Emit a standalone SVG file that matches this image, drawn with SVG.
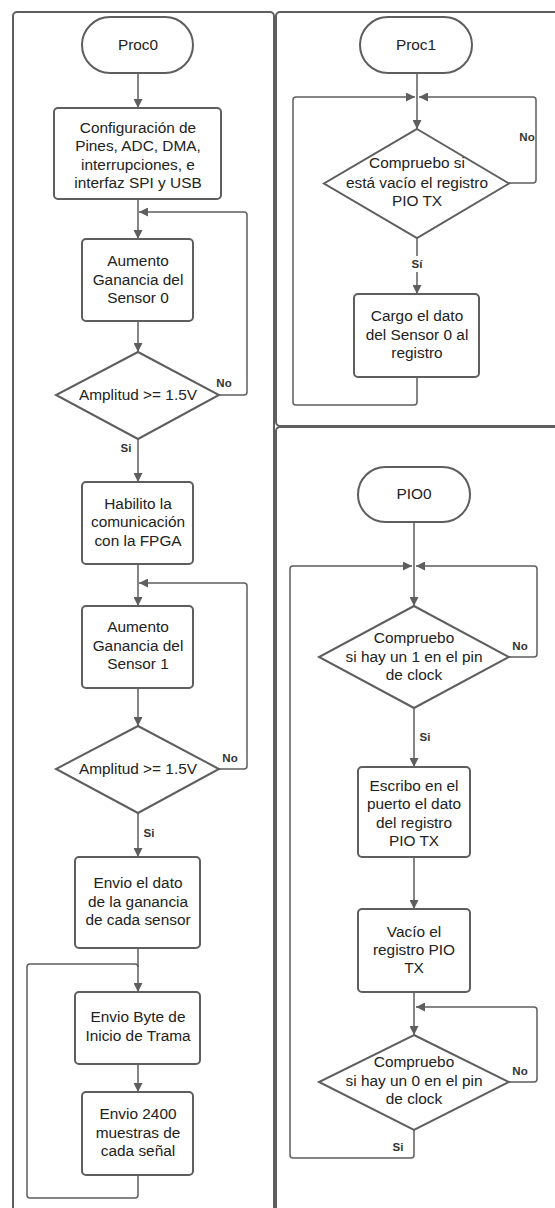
<svg xmlns="http://www.w3.org/2000/svg" width="555" height="1208" viewBox="0 0 555 1208">
<style>
.panel{fill:#ffffff;stroke:#5e5e5e;stroke-width:2}
.shape{fill:#ffffff;stroke:#5e5e5e;stroke-width:2}
.conn{fill:none;stroke:#5e5e5e;stroke-width:1.5}
.t{font-family:"Liberation Sans",Arial,sans-serif;font-size:15.4px;fill:#222222;text-anchor:middle}
.lbl{font-family:"Liberation Sans",Arial,sans-serif;font-size:11.5px;font-weight:bold;fill:#333333;text-anchor:middle}
</style>
<defs>
<marker id="ah" viewBox="0 0 10 10" refX="10" refY="5" markerWidth="9" markerHeight="9" markerUnits="userSpaceOnUse" orient="auto">
<path d="M0,0 L10,5 L0,10 z" fill="#5e5e5e"/>
</marker>
</defs>
<rect width="555" height="1208" fill="#ffffff"/>
<g id="panels">
<rect class="panel" x="13" y="12" width="261" height="1220" rx="4"/>
<rect class="panel" x="276" y="12" width="300" height="414" rx="4"/>
<rect class="panel" x="276" y="427" width="300" height="800" rx="4"/>
</g>
<g id="connectors">
<path class="conn" d="M138,73 V108" marker-end="url(#ah)"/>
<path class="conn" d="M138,199 V239" marker-end="url(#ah)"/>
<path class="conn" d="M219,395 H244 Q247,395 247,392 V215 Q247,212 244,212 H139" marker-end="url(#ah)"/>
<path class="conn" d="M138,321 V352" marker-end="url(#ah)"/>
<path class="conn" d="M138,439 V482" marker-end="url(#ah)"/>
<path class="conn" d="M138,564 V606" marker-end="url(#ah)"/>
<path class="conn" d="M219,769 H244 Q247,769 247,766 V586 Q247,583 244,583 H139" marker-end="url(#ah)"/>
<path class="conn" d="M138,688 V726" marker-end="url(#ah)"/>
<path class="conn" d="M138,813 V857" marker-end="url(#ah)"/>
<path class="conn" d="M138,948 V992" marker-end="url(#ah)"/>
<path class="conn" d="M138,1064 V1092" marker-end="url(#ah)"/>
<path class="conn" d="M138,1175 V1195 Q138,1198 135,1198 H30 Q27,1198 27,1195 V967 Q27,964 30,964 H135 Q138,964 138,967"/>
<path class="conn" d="M417,73 V129" marker-end="url(#ah)"/>
<path class="conn" d="M509,183 H533 Q536,183 536,180 V100 Q536,97 533,97 H419" marker-end="url(#ah)"/>
<path class="conn" d="M417,238 V294" marker-end="url(#ah)"/>
<path class="conn" d="M417,377 V402 Q417,405 414,405 H296 Q293,405 293,402 V100 Q293,97 296,97 H415" marker-end="url(#ah)"/>
<path class="conn" d="M414,522 V606" marker-end="url(#ah)"/>
<path class="conn" d="M509,657 H534 Q537,657 537,654 V569 Q537,566 534,566 H416" marker-end="url(#ah)"/>
<path class="conn" d="M414,708 V767" marker-end="url(#ah)"/>
<path class="conn" d="M414,857 V909" marker-end="url(#ah)"/>
<path class="conn" d="M414,992 V1035" marker-end="url(#ah)"/>
<path class="conn" d="M509,1082 H534 Q537,1082 537,1079 V1010 Q537,1007 534,1007 H416" marker-end="url(#ah)"/>
<path class="conn" d="M414,1130 V1155 Q414,1158 411,1158 H293 Q290,1158 290,1155 V569 Q290,566 293,566 H412" marker-end="url(#ah)"/>
</g>
<g id="labels">
<text class="lbl" x="224" y="387">No</text>
<text class="lbl" x="126" y="452">Si</text>
<text class="lbl" x="230" y="762">No</text>
<text class="lbl" x="149" y="837">Si</text>
<text class="lbl" x="527" y="141">No</text>
<rect x="408" y="256" width="18" height="16" fill="#ffffff"/>
<text class="lbl" x="417" y="268">Sí</text>
<text class="lbl" x="520" y="650">No</text>
<text class="lbl" x="425" y="741">Si</text>
<text class="lbl" x="520" y="1075">No</text>
<text class="lbl" x="398" y="1151">Si</text>
</g>
<g id="proc0">
<rect class="shape" x="82" y="17" width="111" height="56" rx="28"/>
<text class="t" x="138" y="50">Proc0</text>
</g>
<g id="config">
<rect class="shape" x="54" y="108" width="167" height="91" rx="4"/>
<text class="t" x="138" y="133">Configuración de</text>
<text class="t" x="138" y="151">Pines, ADC, DMA,</text>
<text class="t" x="138" y="169.5">interrupciones, e</text>
<text class="t" x="138" y="188">interfaz SPI y USB</text>
</g>
<g id="gain0">
<rect class="shape" x="82" y="239" width="111" height="82" rx="4"/>
<text class="t" x="138" y="266">Aumento</text>
<text class="t" x="138" y="284.5">Ganancia del</text>
<text class="t" x="138" y="303">Sensor 0</text>
</g>
<g id="amp0">
<polygon class="shape" points="138,352 219,395 138,439 56,395"/>
<text class="t" x="138" y="400">Amplitud &gt;= 1.5V</text>
</g>
<g id="fpga">
<rect class="shape" x="82" y="482" width="111" height="82" rx="4"/>
<text class="t" x="138" y="508.5">Habilito la</text>
<text class="t" x="138" y="527">comunicación</text>
<text class="t" x="138" y="545.5">con la FPGA</text>
</g>
<g id="gain1">
<rect class="shape" x="82" y="606" width="111" height="82" rx="4"/>
<text class="t" x="138" y="632">Aumento</text>
<text class="t" x="138" y="650.5">Ganancia del</text>
<text class="t" x="138" y="669">Sensor 1</text>
</g>
<g id="amp1">
<polygon class="shape" points="138,726 219,769 138,813 56,769"/>
<text class="t" x="138" y="774">Amplitud &gt;= 1.5V</text>
</g>
<g id="sendgain">
<rect class="shape" x="75" y="857" width="125" height="91" rx="4"/>
<text class="t" x="138" y="888">Envio el dato</text>
<text class="t" x="138" y="906.5">de la ganancia</text>
<text class="t" x="138" y="925">de cada sensor</text>
</g>
<g id="sendbyte">
<rect class="shape" x="75" y="992" width="125" height="72" rx="4"/>
<text class="t" x="138" y="1022">Envio Byte de</text>
<text class="t" x="138" y="1041">Inicio de Trama</text>
</g>
<g id="send2400">
<rect class="shape" x="82" y="1092" width="111" height="83" rx="4"/>
<text class="t" x="138" y="1119">Envio 2400</text>
<text class="t" x="138" y="1137.5">muestras de</text>
<text class="t" x="138" y="1156">cada señal</text>
</g>
<g id="proc1">
<rect class="shape" x="360" y="17" width="112" height="56" rx="28"/>
<text class="t" x="416" y="50">Proc1</text>
</g>
<g id="checkempty">
<polygon class="shape" points="417,129 509,183.5 417,238 324,183.5"/>
<text class="t" x="417" y="168">Compruebo si</text>
<text class="t" x="417" y="187.5">está vacío el registro</text>
<text class="t" x="417" y="206">PIO TX</text>
</g>
<g id="load">
<rect class="shape" x="354" y="294" width="125" height="83" rx="4"/>
<text class="t" x="417" y="321">Cargo el dato</text>
<text class="t" x="417" y="339.5">del Sensor 0 al</text>
<text class="t" x="417" y="358">registro</text>
</g>
<g id="pio0">
<rect class="shape" x="358" y="467" width="112" height="55" rx="27.5"/>
<text class="t" x="414" y="499">PIO0</text>
</g>
<g id="check1">
<polygon class="shape" points="414,606 509,657 414,708 319,657"/>
<text class="t" x="414" y="643">Compruebo</text>
<text class="t" x="414" y="662">si hay un 1 en el pin</text>
<text class="t" x="414" y="680">de clock</text>
</g>
<g id="write">
<rect class="shape" x="358" y="767" width="112" height="90" rx="4"/>
<text class="t" x="414" y="791">Escribo en el</text>
<text class="t" x="414" y="809">puerto el dato</text>
<text class="t" x="414" y="827.5">del registro</text>
<text class="t" x="414" y="846">PIO TX</text>
</g>
<g id="empty">
<rect class="shape" x="358" y="909" width="112" height="83" rx="4"/>
<text class="t" x="414" y="937">Vacío el</text>
<text class="t" x="414" y="955">registro PIO</text>
<text class="t" x="414" y="973">TX</text>
</g>
<g id="check0">
<polygon class="shape" points="414,1035 509,1082 414,1130 319,1082"/>
<text class="t" x="414" y="1067">Compruebo</text>
<text class="t" x="414" y="1086">si hay un 0 en el pin</text>
<text class="t" x="414" y="1104">de clock</text>
</g>
</svg>
